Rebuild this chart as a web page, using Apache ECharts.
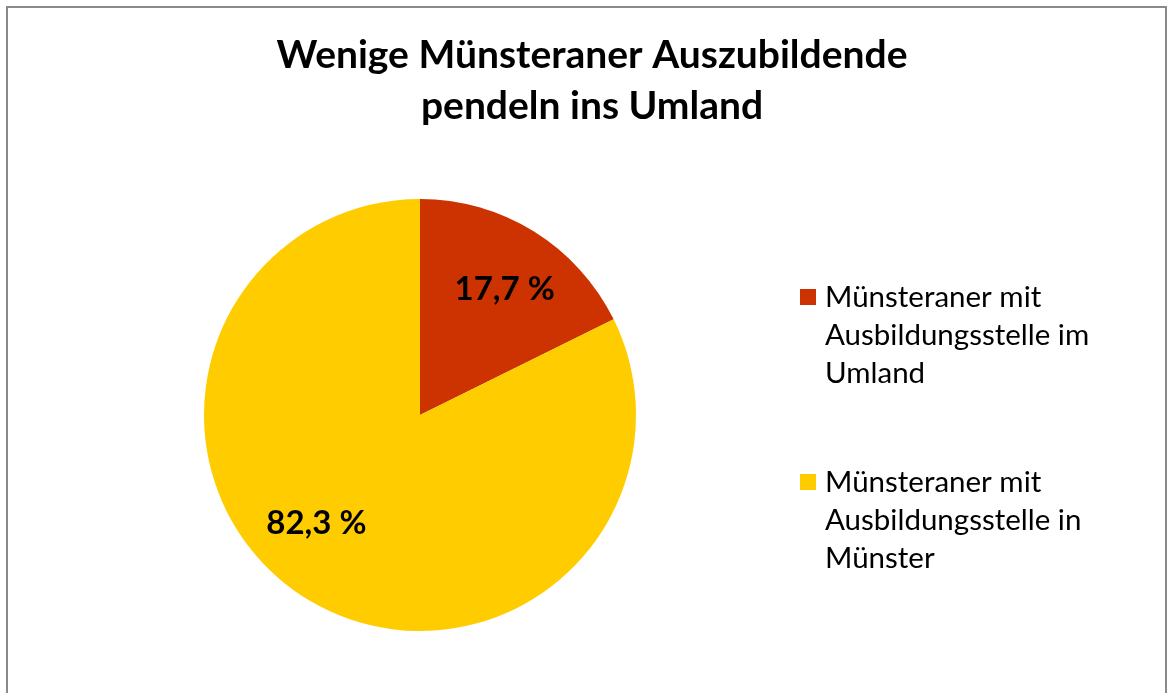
<!DOCTYPE html>
<html>
<head>
<meta charset="utf-8">
<script src="https://cdn.jsdelivr.net/npm/echarts@6/dist/echarts.min.js"></script>
<style>
html,body{margin:0;padding:0;background:#fff;}
#chart{width:1168px;height:693px;}
</style>
</head>
<body>
<div id="chart"></div>
<script>
const titleText = 'Wenige Münsteraner Auszubildende\npendeln ins Umland';
const categories = ['Münsteraner mit Ausbildungsstelle im Umland', 'Münsteraner mit Ausbildungsstelle in Münster'];
const legendLabels = ['Münsteraner mit\nAusbildungsstelle im\nUmland', 'Münsteraner mit\nAusbildungsstelle in\nMünster'];
const values = [17.7, 82.3];
const colors = ['#CC3300', '#FFCC00'];

const chart = echarts.init(document.getElementById('chart'));
const labelMap = {};
categories.forEach((c, i) => labelMap[c] = legendLabels[i]);
const offsets = [[26, -31], [-45, 14]];

chart.setOption({
  backgroundColor: '#ffffff',
  animation: false,
  graphic: [{
    type: 'rect',
    shape: {x: 7, y: 7, width: 1159, height: 720},
    style: {fill: 'none', stroke: '#898989', lineWidth: 2},
    silent: true
  }],
  title: {
    text: titleText,
    left: 587,
    textAlign: 'center',
    top: 25,
    textStyle: {fontFamily: 'Lato', fontWeight: 'bold', fontSize: 39, lineHeight: 51, color: '#000'}
  },
  legend: {
    orient: 'vertical',
    left: 795,
    top: 197,
    itemWidth: 16,
    itemHeight: 16,
    itemGap: -5,
    icon: 'rect',
    data: categories,
    formatter: n => ['', ''].concat(labelMap[n].split('\n')).map(l => '{t|' + l + '}').join('\n'),
    textStyle: {
      fontFamily: 'Lato', fontSize: 29.5, lineHeight: 38, color: '#000',
      rich: {t: {fontFamily: 'Lato', fontSize: 29.5, lineHeight: 38, color: '#000', padding: [0, 0, 0, 4]}}
    }
  },
  series: [{
    type: 'pie',
    center: [420, 415],
    radius: 216,
    startAngle: 90,
    clockwise: true,
    silent: true,
    data: categories.map((c, i) => ({
      name: c,
      value: values[i],
      itemStyle: {color: colors[i]},
      label: {offset: offsets[i]}
    })),
    label: {
      show: true,
      position: 'inside',
      formatter: p => p.value.toFixed(1).replace('.', ',') + ' %',
      fontFamily: 'Lato',
      fontWeight: 'bold',
      fontSize: 33,
      color: '#000'
    },
    labelLine: {show: false}
  }]
});
</script>
</body>
</html>
